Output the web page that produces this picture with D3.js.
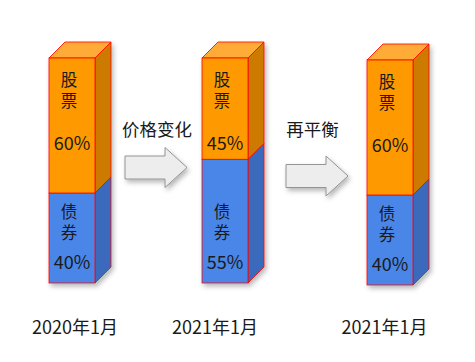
<!DOCTYPE html>
<html><head><meta charset="utf-8">
<script src="https://cdn.jsdelivr.net/npm/d3@7"></script>
<style>body{margin:0;background:#fff;}svg{display:block;font-family:"Noto Sans CJK SC","Noto Sans",sans-serif;}</style>
</head><body>
<script>
const categories = ["2020年1月", "2021年1月", "2021年1月"];
const stockValues = [60, 45, 60];
const bondValues = [40, 55, 40];
const stockName = "股票";
const bondName = "债券";
const stepLabels = ["价格变化", "再平衡"];

const W = 475, H = 362;
const svg = d3.select("body").append("svg").attr("width", W).attr("height", H);
const defs = svg.append("defs");
const f = defs.append("filter").attr("id","sh").attr("x","-30%").attr("y","-30%").attr("width","160%").attr("height","160%");
f.append("feDropShadow").attr("dx",2).attr("dy",3).attr("stdDeviation",2.5).attr("flood-color","#000").attr("flood-opacity",0.28);

const idx = d3.range(categories.length);
const xLeft = d3.scaleOrdinal().domain(idx).range([49, 202, 367]);
const xLabel = d3.scaleOrdinal().domain(idx).range([75, 215, 384.5]);
const yOff = d3.scaleOrdinal().domain(idx).range([0, 0, 2]);
const y = d3.scaleLinear().domain([0, 100]).range([283, 58]);
const bw = 46, dx = 16, dy = -16;

const colors = {
  stock: {front: "#FF9900", top: "#FFAB38", side: "#CC7A00"},
  bond:  {front: "#4A86E8", top: "#6A9CEE", side: "#3B6BBD"}
};

function box(g, x0, yTop, yBot, c, drawTop) {
  const x1 = x0 + bw;
  g.append("path").attr("d", `M${x1},${yTop}L${x1+dx},${yTop+dy}L${x1+dx},${yBot+dy}L${x1},${yBot}Z`)
    .attr("fill", c.side).attr("stroke", "#FF0000").attr("stroke-width", 0.8);
  if (drawTop) g.append("path").attr("d", `M${x0},${yTop}L${x0+dx},${yTop+dy}L${x1+dx},${yTop+dy}L${x1},${yTop}Z`)
    .attr("fill", c.top).attr("stroke", "#FF0000").attr("stroke-width", 0.8);
  g.append("rect").attr("x", x0).attr("y", yTop).attr("width", bw).attr("height", yBot - yTop)
    .attr("fill", c.front).attr("stroke", "#FF0000").attr("stroke-width", 0.8);
}

function vtext(g, x, yc, s) {
  g.append("text").attr("x", x).attr("y", yc)
    .attr("text-anchor", "middle")
    .style("writing-mode", "vertical-rl").style("text-orientation", "upright")
    .attr("letter-spacing", 4).attr("font-size", 16.5).text(s);
}

idx.forEach(i => {
  const x0 = xLeft(i), o = yOff(i);
  const g = svg.append("g").attr("transform", `translate(0,${o})`);
  const shadow = g.append("g").attr("filter", "url(#sh)");
  const yB = y(0), yM = y(bondValues[i]), yT = y(bondValues[i] + stockValues[i]);
  box(shadow, x0, yM, yB, colors.bond, false);
  box(shadow, x0, yT, yM, colors.stock, true);
  const cx = x0 + bw / 2;
  const t = g.append("g").attr("fill", "#1a1a1a");
  vtext(t, cx - 3, yT + 34, stockName);
  t.append("text").attr("x", cx).attr("y", yT + 84).attr("text-anchor", "middle").attr("dominant-baseline", "central")
    .attr("font-size", 18).text(stockValues[i] + "%");
  vtext(t, cx - 3, yB - 59, bondName);
  t.append("text").attr("x", cx).attr("y", yB - 22).attr("text-anchor", "middle").attr("dominant-baseline", "central")
    .attr("font-size", 18).text(bondValues[i] + "%");
  svg.append("text").attr("x", xLabel(i)).attr("y", 326).attr("text-anchor", "middle")
    .attr("dominant-baseline", "central").attr("font-size", 18).attr("fill", "#1a1a1a").text(categories[i]);
});

// arrows between bars
const arrowX = d3.scaleOrdinal().domain([0, 1]).range([125, 286]);
const arrowY = d3.scaleOrdinal().domain([0, 1]).range([167.5, 176]);
const labelX = d3.scaleOrdinal().domain([0, 1]).range([157, 312.5]);
stepLabels.forEach((s, k) => {
  const ax = arrowX(k), ay = arrowY(k);
  const bodyLen = 40, headLen = 22, bh = 11.5, hh = 20;
  svg.append("path")
    .attr("d", `M${ax},${ay-bh}L${ax+bodyLen},${ay-bh}L${ax+bodyLen},${ay-hh}L${ax+bodyLen+headLen},${ay}L${ax+bodyLen},${ay+hh}L${ax+bodyLen},${ay+bh}L${ax},${ay+bh}Z`)
    .attr("fill", "#EDEDED").attr("stroke", "#8a8a8a").attr("stroke-width", 0.9).attr("filter", "url(#sh)");
  svg.append("text").attr("x", labelX(k)).attr("y", 128.5).attr("text-anchor", "middle")
    .attr("dominant-baseline", "central").attr("font-size", 17.5).attr("fill", "#1a1a1a").text(s);
});
</script>
</body></html>
